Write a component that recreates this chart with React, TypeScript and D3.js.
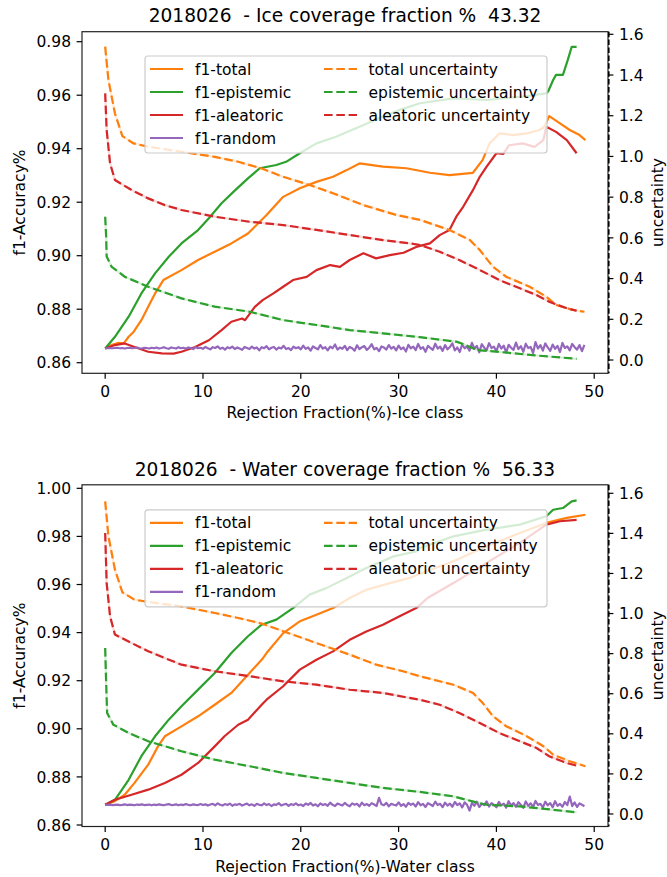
import React from "react";
import * as d3 from "d3";

type Pt = [number, number];

// ---- Ice class panel ----
const iceF1Total: Pt[] = [
  [0, 0.8653], [0.66, 0.8666], [1.35, 0.8674], [1.9, 0.8672], [2.4, 0.8697], [2.9, 0.8715],
  [3.7, 0.8759], [4.4, 0.8809], [5.1, 0.8859], [5.95, 0.8909], [7.8, 0.8946], [9.5, 0.8984],
  [11.2, 0.9015], [12.9, 0.9046], [14.6, 0.9083], [16.5, 0.9152], [18.2, 0.922], [19.9, 0.9252],
  [21.6, 0.9276], [23.3, 0.9295], [24.7, 0.932], [26.0, 0.9345], [28.4, 0.9333], [30.8, 0.9327],
  [33.2, 0.931], [35.2, 0.9301], [37.6, 0.931], [38.6, 0.9358], [39.3, 0.942], [40.3, 0.9457],
  [41.7, 0.9451], [43.1, 0.9457], [44.4, 0.947], [44.9, 0.9482], [45.4, 0.9522], [46.5, 0.9495],
  [47.5, 0.947], [48.5, 0.9451], [49.1, 0.9432],
];
const iceF1Epistemic: Pt[] = [
  [0, 0.8653], [1.0, 0.8697], [2.4, 0.8772], [3.7, 0.8859], [5.1, 0.8934], [6.5, 0.8996],
  [7.8, 0.9046], [9.5, 0.9096], [10.6, 0.914], [11.9, 0.9196], [13.3, 0.9245], [14.6, 0.9289],
  [15.8, 0.9327], [17.5, 0.9339], [18.5, 0.9351], [19.9, 0.9383], [21.6, 0.942], [23.6, 0.9445],
  [26.0, 0.9482], [28.4, 0.952], [30.1, 0.9545], [32.2, 0.957], [35.6, 0.9588], [39.0, 0.9582],
  [42.4, 0.9594], [45.1, 0.9607], [45.3, 0.9615], [45.8, 0.9657], [46.1, 0.9676], [46.8, 0.9676],
  [47.3, 0.9732], [47.7, 0.9781], [48.2, 0.9781],
];
const iceF1Aleatoric: Pt[] = [
  [0, 0.8653], [1.0, 0.8666], [2.0, 0.8672], [3.0, 0.8659], [4.4, 0.8641], [5.8, 0.8635],
  [7.0, 0.8634], [7.8, 0.8641], [9.2, 0.8659], [10.6, 0.8684], [11.9, 0.8722], [12.9, 0.8753],
  [14.0, 0.8765], [14.3, 0.8759], [15.3, 0.8809], [16.1, 0.8834], [17.2, 0.8859], [18.2, 0.8884],
  [19.2, 0.8909], [20.6, 0.8921], [21.6, 0.8946], [23.0, 0.8965], [24.0, 0.8958], [25.0, 0.8984],
  [26.4, 0.9009], [27.7, 0.899], [29.1, 0.9002], [30.5, 0.9011], [31.8, 0.9033], [33.2, 0.9046],
  [34.2, 0.9077], [35.2, 0.9096], [35.9, 0.9146], [36.6, 0.9183], [37.6, 0.9245], [38.3, 0.9295],
  [39.0, 0.9333], [40.0, 0.9383], [40.7, 0.9381], [41.3, 0.9413], [42.7, 0.942], [43.9, 0.9407],
  [44.8, 0.9432], [45.1, 0.9482], [46.1, 0.9463], [47.2, 0.9432], [48.2, 0.9383],
];
// f1-random, one value every 0.25 %
const iceF1Random: number[] = [
  0.8654, 0.8654, 0.8655, 0.8654, 0.8655, 0.8656, 0.8654, 0.8655, 0.8653, 0.8655, 0.8656, 0.8654, 0.8655, 0.8657, 0.8654, 0.8653, 0.8656, 0.8655, 0.8653, 0.8656,
  0.8654, 0.8657, 0.8653, 0.8655, 0.8658, 0.8654, 0.8652, 0.8657, 0.8655, 0.8653, 0.8658, 0.8654, 0.8656, 0.8652, 0.8657, 0.8655, 0.8651, 0.8658, 0.8654, 0.8656,
  0.8652, 0.8659, 0.8654, 0.865, 0.8658, 0.8655, 0.8661, 0.8652, 0.8656, 0.8649, 0.8658, 0.8654, 0.866, 0.8651, 0.8657, 0.8653, 0.8648, 0.8659, 0.8655, 0.8651,
  0.866, 0.8653, 0.8657, 0.8646, 0.8658, 0.8654, 0.8662, 0.865, 0.8656, 0.8659, 0.8649, 0.8657, 0.8653, 0.8663, 0.8651, 0.8655, 0.8647, 0.866, 0.8654, 0.8658,
  0.865, 0.8664, 0.8652, 0.8657, 0.8645, 0.8661, 0.8655, 0.865, 0.8666, 0.8653, 0.8658, 0.8646, 0.866, 0.8654, 0.8668, 0.8649, 0.8657, 0.8652, 0.8663, 0.8647,
  0.8659, 0.8654, 0.8645, 0.8665, 0.8651, 0.8658, 0.8662, 0.8648, 0.8656, 0.8669, 0.865, 0.8655, 0.8643, 0.8661, 0.8657, 0.8649, 0.8666, 0.8653, 0.8659, 0.8646,
  0.8664, 0.8651, 0.8657, 0.8642, 0.8667, 0.8654, 0.866, 0.8647, 0.867, 0.8652, 0.8658, 0.8641, 0.8663, 0.8655, 0.8648, 0.8671, 0.8653, 0.866, 0.8644, 0.8666,
  0.865, 0.8659, 0.8672, 0.8646, 0.8657, 0.864, 0.8668, 0.8654, 0.8661, 0.8645, 0.8674, 0.8652, 0.8663, 0.8639, 0.8669, 0.8656, 0.8647, 0.8673, 0.8655, 0.866,
  0.8643, 0.867, 0.8653, 0.8664, 0.8638, 0.8667, 0.8656, 0.8648, 0.8675, 0.8651, 0.8662, 0.8641, 0.8671, 0.8655, 0.8659, 0.8636, 0.8677, 0.8653, 0.8666, 0.8645,
  0.8672, 0.8657, 0.8644, 0.8668, 0.8652, 0.8663, 0.864, 0.8674, 0.8655, 0.8661, 0.8646, 0.867, 0.8658, 0.8649, 0.8666, 0.8643, 0.8667,
];
const iceUTotal: Pt[] = [
  [0, 1.539], [0.33, 1.376], [1.0, 1.211], [1.76, 1.1], [2.9, 1.064], [4.4, 1.048], [7.8, 1.023],
  [11.2, 0.998], [13.6, 0.974], [16.0, 0.941], [18.2, 0.9], [20.9, 0.86], [23.3, 0.819], [26.4, 0.761],
  [29.8, 0.712], [32.2, 0.688], [35.2, 0.639], [37.3, 0.589], [38.3, 0.54], [39.65, 0.458], [41.0, 0.409],
  [43.4, 0.36], [45.1, 0.311], [46.1, 0.27], [47.8, 0.246], [49.0, 0.237],
];
const iceUEpistemic: Pt[] = [
  [0, 0.704], [0.1, 0.606], [0.15, 0.508], [0.66, 0.458], [2.0, 0.409], [4.4, 0.36], [7.8, 0.303],
  [11.2, 0.262], [14.8, 0.237], [18.2, 0.196], [21.6, 0.172], [25.0, 0.147], [28.4, 0.131],
  [32.2, 0.112], [35.9, 0.09], [36.6, 0.079], [38.0, 0.049], [40.0, 0.041], [44.1, 0.022], [48.2, 0.006],
];
const iceUAleatoric: Pt[] = [
  [0, 1.31], [0.15, 1.13], [0.5, 0.966], [1.0, 0.884], [2.7, 0.835], [4.4, 0.794], [6.1, 0.761],
  [7.8, 0.737], [11.2, 0.704], [14.8, 0.679], [18.2, 0.663], [21.6, 0.639], [25.0, 0.614], [28.4, 0.589],
  [31.1, 0.573], [32.2, 0.565], [34.2, 0.532], [36.2, 0.491], [38.3, 0.442], [40.3, 0.393], [42.4, 0.352],
  [44.1, 0.319], [45.4, 0.286], [47.2, 0.254], [48.2, 0.242],
];

// ---- Water class panel ----
const waterF1Total: Pt[] = [
  [0, 0.8684], [1.0, 0.8699], [2.0, 0.8726], [3.0, 0.8775], [4.4, 0.8851], [5.4, 0.8927], [6.1, 0.8969],
  [7.8, 0.901], [9.5, 0.9052], [11.2, 0.91], [12.9, 0.9149], [14.6, 0.9225], [16.0, 0.9287], [16.5, 0.9315],
  [18.2, 0.9398], [19.9, 0.9447], [21.6, 0.9474], [23.3, 0.9502], [25.0, 0.9544], [26.7, 0.9578],
  [29.1, 0.9606], [31.1, 0.9627], [32.2, 0.9645], [35.6, 0.9697], [39.0, 0.9759], [42.4, 0.9814],
  [45.1, 0.9856], [47.2, 0.9877], [49.1, 0.989],
];
const waterF1Epistemic: Pt[] = [
  [0, 0.8684], [1.0, 0.8705], [2.4, 0.8788], [3.7, 0.8886], [5.1, 0.8969], [6.5, 0.9038], [7.8, 0.9094],
  [9.5, 0.9163], [11.2, 0.9232], [12.9, 0.9315], [14.6, 0.9385], [16.0, 0.9433], [17.5, 0.9454],
  [19.2, 0.9502], [20.9, 0.9558], [22.6, 0.9585], [24.7, 0.9627], [26.7, 0.9669], [29.5, 0.9717],
  [31.8, 0.9738], [32.2, 0.9752], [35.6, 0.98], [39.0, 0.9828], [42.4, 0.9849], [45.1, 0.9884],
  [45.8, 0.9911], [46.8, 0.9918], [47.7, 0.9946], [48.2, 0.995],
];
const waterF1Aleatoric: Pt[] = [
  [0, 0.8684], [1.0, 0.8705], [2.7, 0.8726], [4.4, 0.8747], [6.1, 0.8775], [7.8, 0.8809], [9.5, 0.8858],
  [11.2, 0.8927], [12.2, 0.8969], [13.6, 0.9017], [14.6, 0.9038], [16.0, 0.91], [16.5, 0.9121],
  [18.2, 0.9177], [19.9, 0.9246], [21.6, 0.9287], [23.3, 0.9322], [25.0, 0.937], [26.7, 0.9405],
  [28.4, 0.9433], [30.1, 0.9468], [31.8, 0.9502], [33.0, 0.9545], [35.6, 0.9606], [39.0, 0.969],
  [42.4, 0.9773], [45.1, 0.9849], [46.5, 0.9863], [48.2, 0.9869],
];
const waterF1Random: number[] = [
  0.8684, 0.8684, 0.8685, 0.8683, 0.8684, 0.8685, 0.8683, 0.8684, 0.8686, 0.8683, 0.8685, 0.8684, 0.8682, 0.8685, 0.8684, 0.8686, 0.8683, 0.8684, 0.8685, 0.8682,
  0.8685, 0.8683, 0.8686, 0.8684, 0.8682, 0.8685, 0.8687, 0.8683, 0.8684, 0.8686, 0.8682, 0.8685, 0.8683, 0.8687, 0.8684, 0.8682, 0.8686, 0.8684, 0.8683, 0.8687,
  0.8683, 0.8686, 0.8681, 0.8685, 0.8688, 0.8682, 0.869, 0.8684, 0.8681, 0.8687, 0.8683, 0.8689, 0.868, 0.8686, 0.8684, 0.8688, 0.8681, 0.8685, 0.8689, 0.8682,
  0.8686, 0.868, 0.8688, 0.8684, 0.8682, 0.869, 0.8683, 0.8687, 0.8679, 0.8686, 0.8684, 0.8691, 0.8681, 0.8685, 0.8688, 0.868, 0.8687, 0.8683, 0.869, 0.8682,
  0.8685, 0.8679, 0.8689, 0.8684, 0.8692, 0.8681, 0.8686, 0.8678, 0.869, 0.8683, 0.8687, 0.868, 0.8693, 0.8684, 0.8679, 0.8689, 0.8685, 0.8681, 0.8692, 0.8683,
  0.8678, 0.869, 0.8684, 0.8688, 0.8677, 0.8693, 0.8682, 0.8687, 0.868, 0.8691, 0.8685, 0.8679, 0.8713, 0.8686, 0.8682, 0.8692, 0.8678, 0.8688, 0.8684, 0.8681,
  0.8694, 0.868, 0.8687, 0.8676, 0.8692, 0.8684, 0.8689, 0.8677, 0.8695, 0.8682, 0.8688, 0.8675, 0.8691, 0.8685, 0.8679, 0.8697, 0.8683, 0.8688, 0.8674, 0.8693,
  0.8681, 0.8689, 0.8676, 0.8696, 0.8683, 0.869, 0.8673, 0.8694, 0.8684, 0.866, 0.8692, 0.868, 0.8697, 0.8675, 0.8688, 0.8683, 0.8698, 0.8677, 0.8691, 0.8684,
  0.8674, 0.8696, 0.8682, 0.8689, 0.8672, 0.8699, 0.8681, 0.8691, 0.8676, 0.8695, 0.8684, 0.8671, 0.8698, 0.868, 0.869, 0.8675, 0.87, 0.8683, 0.8688, 0.8673,
  0.8697, 0.8682, 0.8691, 0.8674, 0.8699, 0.868, 0.8688, 0.8676, 0.8696, 0.8683, 0.8718, 0.8679, 0.8694, 0.8675, 0.869, 0.8684, 0.8678,
];
const waterUTotal: Pt[] = [
  [0, 1.56], [0.33, 1.386], [1.0, 1.219], [1.76, 1.106], [3.0, 1.069], [4.4, 1.058], [7.8, 1.036],
  [11.2, 1.003], [13.6, 0.978], [16.0, 0.95], [18.2, 0.912], [21.6, 0.853], [25.0, 0.795], [27.7, 0.745],
  [30.45, 0.712], [32.2, 0.687], [35.6, 0.645], [37.6, 0.604], [38.6, 0.554], [39.65, 0.488], [41.0, 0.438],
  [43.1, 0.388], [44.8, 0.338], [45.8, 0.296], [47.5, 0.263], [49.1, 0.238],
];
const waterUEpistemic: Pt[] = [
  [0, 0.828], [0.1, 0.654], [0.2, 0.504], [0.83, 0.446], [2.4, 0.404], [4.4, 0.363], [7.8, 0.313],
  [11.2, 0.271], [14.8, 0.238], [18.2, 0.205], [21.6, 0.18], [25.0, 0.155], [28.4, 0.13], [32.2, 0.11],
  [35.6, 0.088], [36.9, 0.071], [39.0, 0.046], [42.4, 0.038], [45.8, 0.021], [48.2, 0.008],
];
const waterUAleatoric: Pt[] = [
  [0, 1.402], [0.15, 1.153], [0.5, 0.986], [1.0, 0.895], [2.7, 0.853], [4.4, 0.812], [6.1, 0.778],
  [7.8, 0.745], [11.2, 0.712], [14.8, 0.687], [18.2, 0.662], [21.6, 0.645], [25.0, 0.62], [28.4, 0.604],
  [31.1, 0.579], [32.2, 0.57], [34.2, 0.545], [36.2, 0.504], [38.3, 0.454], [40.3, 0.404], [42.4, 0.363],
  [44.1, 0.329], [45.4, 0.288], [47.2, 0.254], [48.2, 0.241],
];

const RANDOM_STEP = 0.25;
const xTicks = [0, 10, 20, 30, 40, 50];
const iceYTicks = [0.86, 0.88, 0.9, 0.92, 0.94, 0.96, 0.98];
const waterYTicks = [0.86, 0.88, 0.9, 0.92, 0.94, 0.96, 0.98, 1.0];
const uTicks = [0, 0.2, 0.4, 0.6, 0.8, 1.0, 1.2, 1.4, 1.6];
const f1Labels = ["f1-total", "f1-epistemic", "f1-aleatoric", "f1-random"];
const uLabels = ["total uncertainty", "epistemic uncertainty", "aleatoric uncertainty"];

const ORANGE = "#ff7f0e";
const GREEN = "#2ca02c";
const RED = "#d62728";
const PURPLE = "#9467bd";
const FONT = "DejaVu Sans, sans-serif";
const FS = 15.5;
const LW = 2.2;
const DASH = "8.6,3.7";

interface PanelProps {
  title: string;
  xLabel: string;
  top: number;
  bottom: number;
  yDomain: [number, number];
  uDomain: [number, number];
  yTicks: number[];
  titleY: number;
  xTickY: number;
  xLabelY: number;
  legendTop: number;
  f1: Pt[][];
  random: number[];
  unc: Pt[][];
}

const LEFT = 82;
const RIGHT = 608;

const Panel = (p: PanelProps) => {
  const x = d3.scaleLinear().domain([-2.37, 51.41]).range([LEFT, RIGHT]);
  const y = d3.scaleLinear().domain(p.yDomain).range([p.bottom, p.top]);
  const u = d3.scaleLinear().domain(p.uDomain).range([p.bottom, p.top]);
  const lineY = d3.line<Pt>().x((d) => x(d[0])).y((d) => y(d[1]));
  const lineU = d3.line<Pt>().x((d) => x(d[0])).y((d) => u(d[1]));
  const randomPts: Pt[] = p.random.map((v, i) => [i * RANDOM_STEP, v]);
  const f1Colors = [ORANGE, GREEN, RED];
  const midY = (p.top + p.bottom) / 2;
  const lg = p.legendTop;

  return (
    <g fontFamily={FONT} fill="#000">
      {/* f1 curves on left axis */}
      {p.f1.map((s, i) => (
        <path key={"f" + i} d={lineY(s) || ""} fill="none" stroke={f1Colors[i]} strokeWidth={LW} strokeLinejoin="round" />
      ))}
      <path d={lineY(randomPts) || ""} fill="none" stroke={PURPLE} strokeWidth={LW} strokeLinejoin="round" />
      {/* uncertainty curves on right axis */}
      {p.unc.map((s, i) => (
        <g key={"u" + i}>
          <path d={lineU(s) || ""} fill="none" stroke={f1Colors[i]} strokeOpacity={0.18} strokeWidth={LW} />
          <path d={lineU(s) || ""} fill="none" stroke={f1Colors[i]} strokeWidth={LW} strokeDasharray={DASH} />
        </g>
      ))}

      {/* frame */}
      <rect x={LEFT} y={p.top} width={RIGHT - LEFT} height={p.bottom - p.top} fill="none" stroke="#222" strokeWidth={1.2} />
      <line x1={RIGHT + 0.8} x2={RIGHT + 0.8} y1={p.top} y2={p.bottom} stroke="#000" strokeWidth={1.6} strokeDasharray="5.5,2.4" />

      {/* x axis */}
      {xTicks.map((t) => (
        <g key={"x" + t}>
          <line x1={x(t)} x2={x(t)} y1={p.bottom} y2={p.bottom + 5.4} stroke="#000" strokeWidth={1.2} />
          <text x={x(t)} y={p.xTickY} fontSize={FS} textAnchor="middle">{t}</text>
        </g>
      ))}
      <text x={(LEFT + RIGHT) / 2} y={p.xLabelY} fontSize={FS} textAnchor="middle">{p.xLabel}</text>

      {/* left axis */}
      {p.yTicks.map((t) => (
        <g key={"y" + t}>
          <line x1={LEFT - 5.4} x2={LEFT} y1={y(t)} y2={y(t)} stroke="#000" strokeWidth={1.2} />
          <text x={LEFT - 11} y={y(t) + 0.364 * FS} fontSize={FS} textAnchor="end">{t.toFixed(2)}</text>
        </g>
      ))}
      <text transform={`translate(25,${midY}) rotate(-90)`} fontSize={FS} textAnchor="middle">f1-Accuracy%</text>

      {/* right axis */}
      {uTicks.map((t) => (
        <g key={"u" + t}>
          <line x1={RIGHT} x2={RIGHT + 5.4} y1={u(t)} y2={u(t)} stroke="#000" strokeWidth={1.2} />
          <text x={RIGHT + 11} y={u(t) + 0.364 * FS} fontSize={FS} textAnchor="start">{t.toFixed(1)}</text>
        </g>
      ))}
      <text transform={`translate(662.5,${midY}) rotate(-90)`} fontSize={FS} textAnchor="middle">uncertainty</text>

      {/* title */}
      <text x={(LEFT + RIGHT) / 2} y={p.titleY} fontSize={18.6} textAnchor="middle" style={{ whiteSpace: "pre" }}>{p.title}</text>

      {/* legend */}
      <rect x={145} y={lg} width={402} height={97} rx={3} fill="#fff" fillOpacity={0.8} stroke="#ccc" strokeWidth={1.2} />
      {f1Labels.map((name, i) => (
        <g key={name}>
          <line x1={150} x2={183} y1={lg + 13 + i * 23} y2={lg + 13 + i * 23} stroke={[ORANGE, GREEN, RED, PURPLE][i]} strokeWidth={LW} />
          <text x={195} y={lg + 13 + i * 23 + 0.364 * FS} fontSize={FS}>{name}</text>
        </g>
      ))}
      {uLabels.map((name, i) => (
        <g key={name}>
          <line x1={324} x2={357} y1={lg + 13 + i * 23} y2={lg + 13 + i * 23} stroke={f1Colors[i]} strokeWidth={LW} strokeDasharray={DASH} />
          <text x={368.5} y={lg + 13 + i * 23 + 0.364 * FS} fontSize={FS}>{name}</text>
        </g>
      ))}
    </g>
  );
};

const App = () => (
  <div style={{ position: "absolute", left: 0, top: 0 }}>
    <svg width={667} height={877} style={{ display: "block", background: "#fff" }}>
      <Panel
        title="2018026  - Ice coverage fraction %  43.32"
        xLabel="Rejection Fraction(%)-Ice class"
        top={31.7}
        bottom={373.3}
        yDomain={[0.85604, 0.98374]}
        uDomain={[-0.0653, 1.6128]}
        yTicks={iceYTicks}
        titleY={21.7}
        xTickY={396.5}
        xLabelY={418}
        legendTop={56}
        f1={[iceF1Total, iceF1Epistemic, iceF1Aleatoric]}
        random={iceF1Random}
        unc={[iceUTotal, iceUEpistemic, iceUAleatoric]}
      />
      <Panel
        title="2018026  - Water coverage fraction %  56.33"
        xLabel="Rejection Fraction(%)-Water class"
        top={484.8}
        bottom={826.5}
        yDomain={[0.85938, 1.00146]}
        uDomain={[-0.0624, 1.6424]}
        yTicks={waterYTicks}
        titleY={475.8}
        xTickY={850.3}
        xLabelY={872.3}
        legendTop={509.8}
        f1={[waterF1Total, waterF1Epistemic, waterF1Aleatoric]}
        random={waterF1Random}
        unc={[waterUTotal, waterUEpistemic, waterUAleatoric]}
      />
    </svg>
  </div>
);

export default App;
